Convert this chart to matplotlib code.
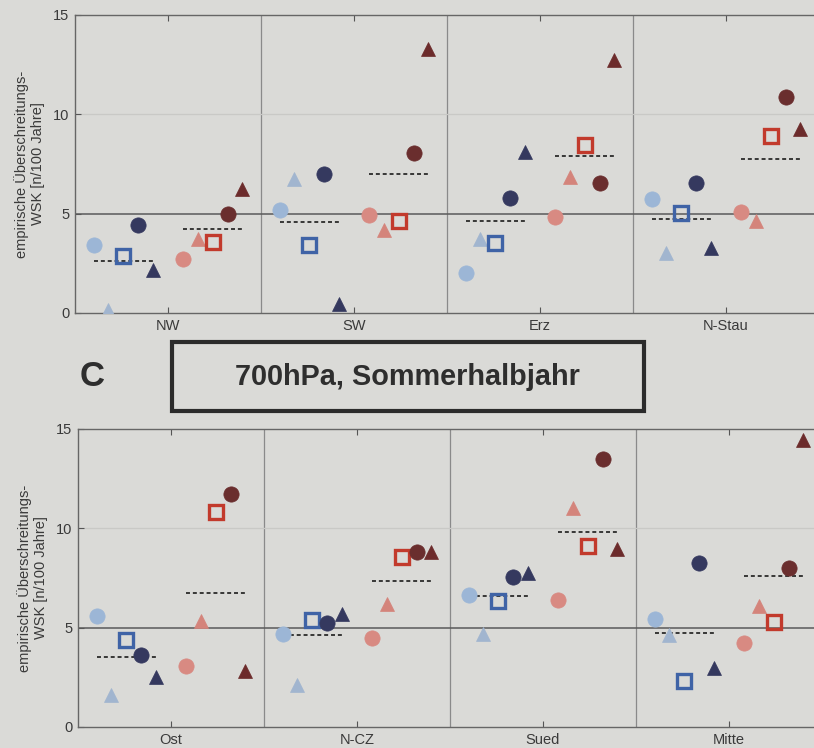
import numpy as np
import matplotlib
matplotlib.use("Agg")
import matplotlib.pyplot as plt
from matplotlib.patches import Rectangle

plt.rcParams["font.family"] = ["Liberation Sans", "DejaVu Sans"]

# Regions of the two panels
regions_top = ["NW", "SW", "Erz", "N-Stau"]
regions_bottom = ["Ost", "N-CZ", "Sued", "Mitte"]

# Exceedance frequencies per region (n/100 years), five members per group
# blue group: light circle, light triangle, open square, dark circle, dark triangle
top_blue = [
    [3.44, 0.15, 2.86, 4.45, 2.18],
    [5.16, 6.77, 3.41, 7.02, 0.47],
    [2.02, 3.71, 3.51, 5.80, 8.12],
    [5.72, 3.02, 5.01, 6.56, 3.29],
]
# red group: salmon circle, salmon triangle, open square, brown circle, brown triangle
top_red = [
    [2.74, 3.73, 3.58, 4.99, 6.22],
    [4.92, 4.20, 4.62, 8.06, 13.30],
    [4.84, 6.83, 8.46, 6.53, 12.73],
    [5.06, 4.64, 8.92, 10.88, 9.27],
]
bottom_blue = [
    [5.59, 1.60, 4.40, 3.61, 2.52],
    [4.67, 2.13, 5.41, 5.24, 5.68],
    [6.64, 4.67, 6.35, 7.53, 7.73],
    [5.43, 4.65, 2.32, 8.23, 2.99],
]
bottom_red = [
    [3.07, 5.33, 10.80, 11.71, 2.82],
    [4.47, 6.17, 8.57, 8.80, 8.80],
    [6.38, 11.04, 9.12, 13.49, 8.94],
    [4.23, 6.08, 5.29, 8.01, 14.45],
]

y_ticks = [0, 5, 10, 15]
y_label = "empirische Überschreitungs-\nWSK [n/100 Jahre]"
panel_letter = "C"
panel_title = "700hPa, Sommerhalbjahr"

BG = "#dadad7"
blue_styles = [
    dict(marker="o", color="#9cb6d6", filled=True, ms=11),
    dict(marker="^", color="#a1b5cf", filled=True, ms=10),
    dict(marker="s", color="#3f63a6", filled=False, ms=9.5),
    dict(marker="o", color="#35395f", filled=True, ms=11),
    dict(marker="^", color="#34385e", filled=True, ms=10),
]
red_styles = [
    dict(marker="o", color="#d88a82", filled=True, ms=11),
    dict(marker="^", color="#d4847b", filled=True, ms=10),
    dict(marker="s", color="#c23a2c", filled=False, ms=9.5),
    dict(marker="o", color="#6a2e2e", filled=True, ms=11),
    dict(marker="^", color="#6c2b2b", filled=True, ms=10),
]
step = 0.08
blue_offsets = np.array([-5, -4, -3, -2, -1]) * step
red_offsets = np.array([1, 2, 3, 4, 5]) * step


def draw_group(ax, xc, values, offsets, styles):
    for v, dx, st in zip(values, offsets, styles):
        if st["filled"]:
            ax.plot(xc + dx, v, linestyle="none", marker=st["marker"],
                    ms=st["ms"], mfc=st["color"], mec=st["color"], mew=0.5,
                    zorder=4)
        else:
            ax.plot(xc + dx, v, linestyle="none", marker=st["marker"],
                    ms=st["ms"], mfc="none", mec=st["color"], mew=2.4,
                    zorder=4)
    mean = float(np.mean(values))
    ax.plot([xc + offsets[0], xc + offsets[-1]], [mean, mean],
            linestyle=(0, (2.2, 1.6)), color="#2a2a2a", lw=1.3, zorder=3)


def draw_panel(ax, names, blue, red):
    ax.set_facecolor(BG)
    ax.set_xlim(0.5, 4.5)
    ax.set_ylim(0, 15)
    for xb in [1.5, 2.5, 3.5]:
        ax.axvline(xb, color="#8a8a8a", lw=0.9, zorder=1)
    ax.axhline(5, color="#5a5a5a", lw=1.1, zorder=2)
    ax.axhline(10, color="#c9c9c6", lw=0.9, zorder=1)
    for i, name in enumerate(names):
        xc = i + 1
        draw_group(ax, xc, blue[i], blue_offsets, blue_styles)
        draw_group(ax, xc, red[i], red_offsets, red_styles)
    ax.set_xticks(range(1, len(names) + 1))
    ax.set_xticklabels(names)
    ax.set_yticks(y_ticks)
    ax.tick_params(axis="both", direction="in", length=4, color="#555555",
                   labelcolor="#3a3a3a", labelsize=10.5, top=True, pad=4)
    for s in ax.spines.values():
        s.set_color("#666666")
        s.set_linewidth(1.0)
    ax.set_ylabel(y_label, fontsize=10.5, color="#3a3a3a", linespacing=1.15,
                  labelpad=6)


fig = plt.figure(figsize=(8.14, 7.48), dpi=100)
fig.patch.set_facecolor(BG)

ax_top = fig.add_axes([75 / 814, 1 - 313 / 748, 744 / 814, 298 / 748])
ax_bot = fig.add_axes([78 / 814, 1 - 727 / 748, 744 / 814, 298 / 748])
draw_panel(ax_top, regions_top, top_blue, top_red)
draw_panel(ax_bot, regions_bottom, bottom_blue, bottom_red)

# Panel heading with letter and framed title
fig.text(92 / 814, 1 - 376 / 748, panel_letter, fontsize=25,
         fontweight="bold", color="#2e2e2e", ha="center", va="center")
fig.patches.append(Rectangle((172 / 814, 1 - 411 / 748), 472 / 814,
                             69 / 748, transform=fig.transFigure,
                             fill=False, edgecolor="#2b2b2b", lw=3))
fig.text(407 / 814, 1 - 377 / 748, panel_title, fontsize=20.8,
         fontweight="bold", color="#2e2e2e", ha="center", va="center")

fig.savefig("out.png", dpi=100, facecolor=BG)
